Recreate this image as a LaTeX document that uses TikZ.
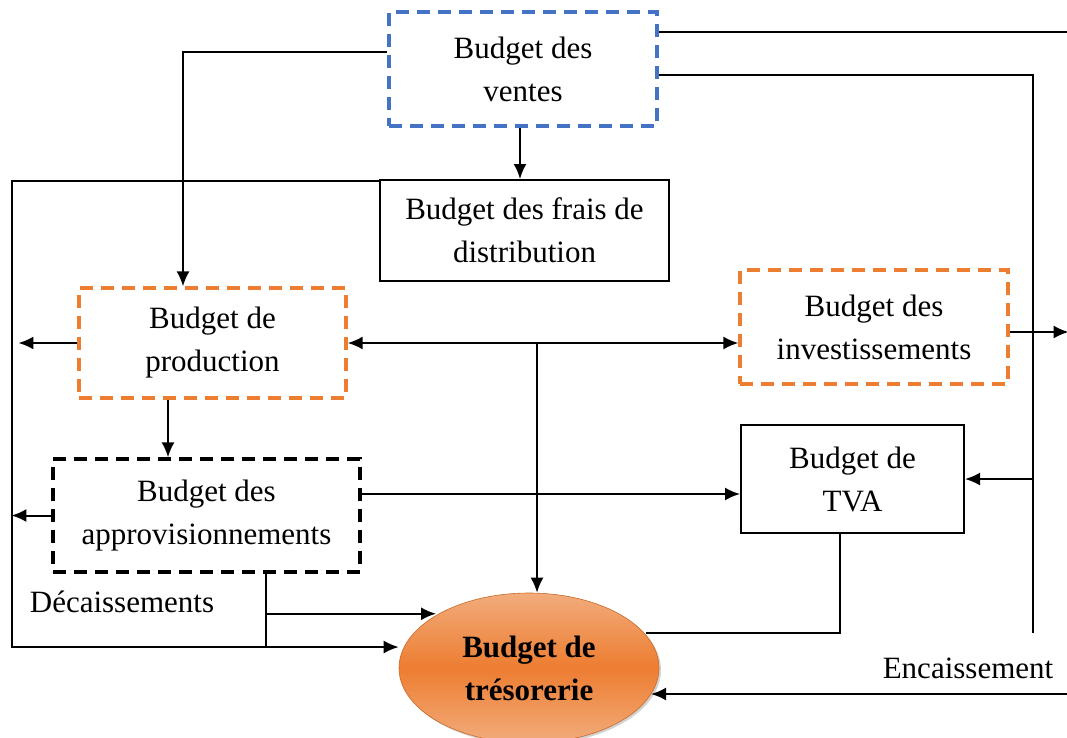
\documentclass[tikz,border=0pt]{standalone}
\usepackage{fontspec}
\setmainfont{Liberation Serif}
\usetikzlibrary{arrows.meta,positioning,calc,shapes.geometric,shadows}
\definecolor{VentesBlue}{RGB}{68,114,196}
\definecolor{BudgOrange}{RGB}{237,125,49}
\definecolor{BudgLight}{RGB}{242,172,124}

\begin{document}
\begin{tikzpicture}[
  x=1pt,y=-1pt,
  font=\fontsize{31}{43}\selectfont,
  box/.style={
    draw,line width=2pt,align=center,inner sep=0pt
  },
  dbox/.style={box,line width=3.2pt,dash pattern=on 13pt off 8pt},
  arr/.style={-{Latex[length=15pt,width=13pt]},line width=2pt},
  darr/.style={{Latex[length=15pt,width=13pt]}-{Latex[length=15pt,width=13pt]},line width=2pt},
  ln/.style={line width=2pt}
]
  \useasboundingbox (0,0) rectangle (1067,737);

  \node[dbox,draw=VentesBlue,minimum width=268pt,minimum height=114pt] (ventes) at (523,69)
    {Budget des\\ventes};
  \node[box,minimum width=289pt,minimum height=101pt] (frais) at (524.5,230.5)
    {Budget des frais de\\distribution};
  \node[dbox,draw=BudgOrange,minimum width=267pt,minimum height=110pt] (prod) at (212.5,343)
    {Budget de\\production};
  \node[dbox,draw=BudgOrange,minimum width=268pt,minimum height=114pt] (invest) at (874,327)
    {Budget des\\investissements};
  \node[box,minimum width=223pt,minimum height=108pt] (tva) at (852.5,479)
    {Budget de\\TVA};
  \node[dbox,draw=black,minimum width=307pt,minimum height=113pt] (appro) at (206.5,515.5)
    {Budget des\\approvisionnements};
  \node[ellipse,minimum width=260pt,minimum height=150pt,inner sep=0pt,align=center,
    top color=BudgLight,bottom color=BudgLight,middle color=BudgOrange,
    draw=BudgOrange!85!black,line width=0.6pt,
    drop shadow={shadow xshift=2pt,shadow yshift=-2pt,fill=black!35},
    font=\fontsize{31}{43}\selectfont\bfseries] (treso) at (529,668)
    {Budget de\\trésorerie};

  \node (dec) at (122,602) {Décaissements};
  \node (encT) at (968,668) {Encaissement};

  \coordinate (dk) at (12,647);
  \coordinate (mid) at (537,343);
  \coordinate (enc) at (1033,633);
  \coordinate (ap) at ([xshift=59.5pt]appro.south);
  \coordinate (ae) at ([yshift=21.5pt]appro.east);
  \coordinate (tv) at ([xshift=-12.5pt]tva.south);

  \draw[arr] ([yshift=17pt]ventes.west) -| ([xshift=-29.5pt]prod.north);
  \draw[arr] ([xshift=-3pt]ventes.south) -- ([xshift=-3pt]ventes.south |- frais.north);
  \draw[arr] ([yshift=49.5pt]frais.west) -| (dk) -- (dk -| treso.west);
  \draw[arr] (prod.west) -- ++(-59,0);
  \draw[arr] ([xshift=-44.5pt]prod.south) -- ([xshift=-44.5pt]prod.south |- appro.north);
  \draw[arr] (appro.west) -- ++(-40,0);
  \draw[ln] (ap) -- (ap |- dk);
  \draw[arr] ($(ap)!0.547!(ap |- dk)$) -- ++(170,0);
  \draw[darr] (prod.east) -- (invest.west |- prod.east);
  \draw[arr] (mid) -- (mid |- treso.north);
  \draw[arr] (ae) -- (ae -| tva.west);
  \draw[ln] (tv) |- ($(treso.center)+(117,-35)$);
  \draw[ln] ([yshift=37pt]ventes.east) -- ++(410,0);
  \draw[ln] ([yshift=-6pt]ventes.east) -| (enc);
  \draw[arr] (tva.east -| enc) -- (tva.east);
  \draw[arr] ([yshift=-5pt]invest.east) -- ++(59,0);
  \draw[arr] (1067,694) -- ($(treso.center)+(122,26)$);
\end{tikzpicture}
\end{document}
